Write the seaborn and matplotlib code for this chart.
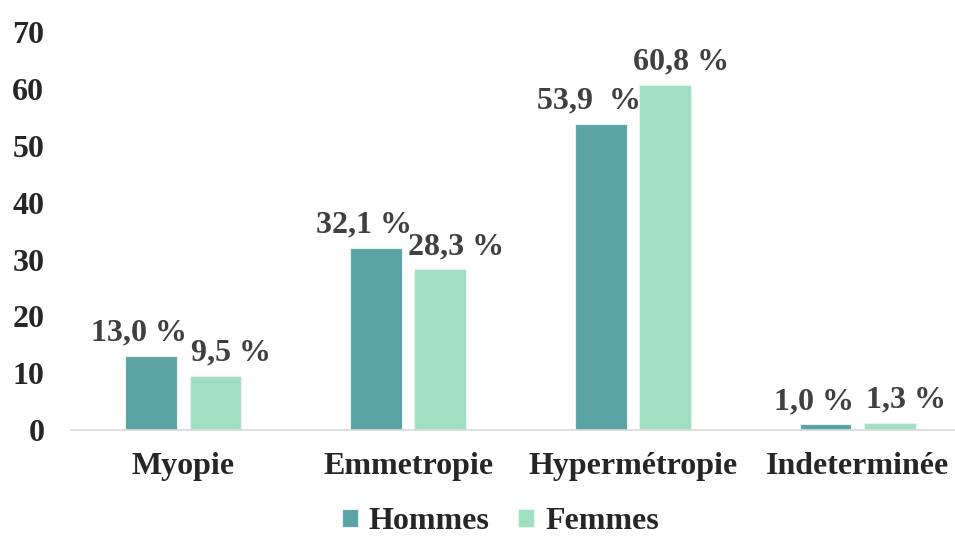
import pandas as pd
import numpy as np
import matplotlib.pyplot as plt
import seaborn as sns

categories = ["Myopie", "Emmetropie", "Hypermétropie", "Indeterminée"]
hommes = [13.0, 32.1, 53.9, 1.0]
femmes = [9.5, 28.3, 60.8, 1.3]
labels_hommes = ["13,0 %", "32,1 %", "53,9  %", "1,0 %"]
labels_femmes = ["9,5 %", "28,3 %", "60,8 %", "1,3 %"]

df = pd.DataFrame({
    "cat": categories * 2,
    "val": hommes + femmes,
    "sexe": ["Hommes"] * 4 + ["Femmes"] * 4,
})

sns.set_style("white")
plt.rcParams['font.family'] = ['Liberation Serif', 'DejaVu Serif']
plt.rcParams['font.weight'] = 'bold'

fig = plt.figure(figsize=(9.55, 5.37), dpi=100)
ax = fig.add_axes([0.074, 0.199, 0.942, 0.741])
sns.barplot(data=df, x="cat", y="val", hue="sexe",
            palette=["#5BA3A5", "#A0DFC2"], width=0.57, gap=0.2,
            ax=ax, saturation=1, edgecolor="#E6F2EE", linewidth=0.8)

# labels slightly shifted sideways, like in the original
for cont, labs, dx in zip(ax.containers, [labels_hommes, labels_femmes], [-12, 16]):
    for bar, lab in zip(cont, labs):
        ax.annotate(lab, (bar.get_x() + bar.get_width() / 2, bar.get_height()),
                    xytext=(dx * 0.72, 6), textcoords="offset points",
                    ha="center", va="bottom", fontsize=23,
                    fontweight='bold', color='#404040')

ax.set_ylim(0, 70)
ax.set_yticks(range(0, 71, 10))
ax.set_xlim(-0.5, 3.5)
ax.set_xlabel("")
ax.set_ylabel("")
ax.tick_params(axis='y', labelsize=23, length=0, pad=19)
ax.tick_params(axis='x', labelsize=23, length=0, pad=16)
for lab in ax.get_yticklabels() + ax.get_xticklabels():
    lab.set_fontweight('bold')
for s in ["top", "right", "left"]:
    ax.spines[s].set_visible(False)
ax.spines["bottom"].set_color("#D9D9D9")
ax.spines["bottom"].set_linewidth(1.2)

handles, leg_labels = ax.get_legend_handles_labels()
ax.get_legend().remove()
fig.legend(handles, leg_labels, loc="lower center", bbox_to_anchor=(0.524, -0.052),
           ncol=2, frameon=False, prop={'size': 23, 'weight': 'bold'},
           handlelength=0.5, handleheight=0.5, handletextpad=0.35,
           columnspacing=0.9)

fig.savefig("out.png", dpi=100)
